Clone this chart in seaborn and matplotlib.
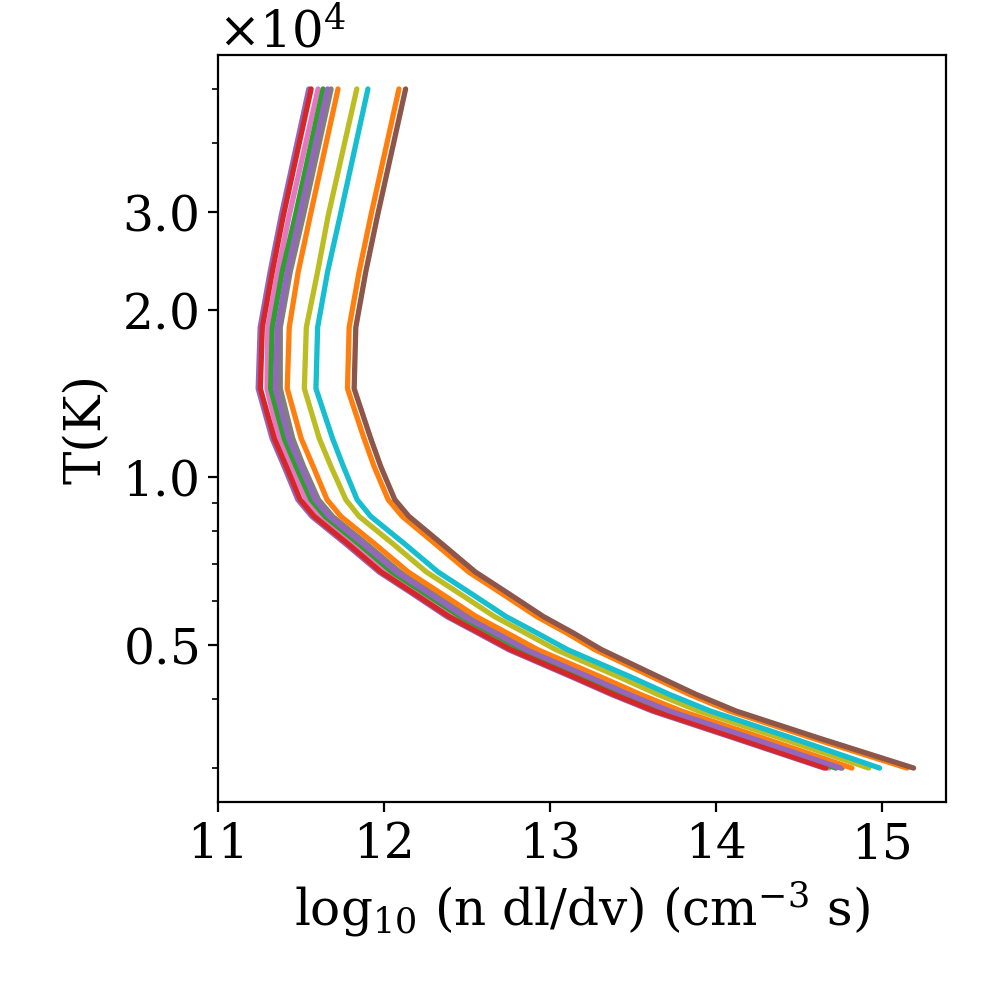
import numpy as np
import pandas as pd
import matplotlib
matplotlib.use("Agg")
import matplotlib.pyplot as plt
import matplotlib.ticker as mticker
import seaborn as sns

# Temperature grid (K)
temperature = [3000, 3400, 3800, 4070, 4370, 4900, 5250, 5620, 6170, 6760, 7590, 8510, 9120,
               10470, 11750, 14450, 18620, 23440, 29510, 50000]

# log10(n dl/dv) for each curve (draw order)
curves = {
    "c1_orange": [15.150, 14.575, 14.080, 13.840, 13.620, 13.270, 13.100, 12.920, 12.714, 12.510,
                  12.310, 12.110, 12.025, 11.940, 11.880, 11.780, 11.790, 11.850, 11.920, 12.090],
    "c4_purple": [14.650, 14.104, 13.615, 13.369, 13.135, 12.750, 12.564, 12.378, 12.174, 11.970,
                  11.770, 11.565, 11.481, 11.398, 11.326, 11.242, 11.254, 11.314, 11.380, 11.547],
    "c5_brown":  [15.190, 14.615, 14.120, 13.880, 13.660, 13.310, 13.140, 12.960, 12.754, 12.550,
                  12.350, 12.150, 12.065, 11.980, 11.920, 11.820, 11.830, 11.890, 11.960, 12.130],
    "c6_pink":   [14.680, 14.139, 13.650, 13.404, 13.175, 12.795, 12.611, 12.425, 12.222, 12.018,
                  11.820, 11.616, 11.532, 11.440, 11.368, 11.295, 11.300, 11.360, 11.428, 11.603],
    "c7_gray":   [14.760, 14.219, 13.730, 13.484, 13.255, 12.875, 12.691, 12.505, 12.299, 12.095,
                  11.895, 11.690, 11.605, 11.515, 11.450, 11.375, 11.375, 11.435, 11.513, 11.681],
    "c8_olive":  [14.920, 14.384, 13.895, 13.649, 13.420, 13.035, 12.851, 12.665, 12.459, 12.255,
                  12.055, 11.850, 11.770, 11.680, 11.610, 11.520, 11.532, 11.600, 11.663, 11.836],
    "c9_cyan":   [14.985, 14.454, 13.965, 13.719, 13.490, 13.105, 12.921, 12.735, 12.529, 12.325,
                  12.125, 11.920, 11.838, 11.755, 11.690, 11.590, 11.600, 11.660, 11.735, 11.903],
    "c11_orange": [14.818, 14.279, 13.790, 13.544, 13.310, 12.925, 12.741, 12.555, 12.349, 12.145,
                   11.945, 11.740, 11.657, 11.573, 11.501, 11.417, 11.429, 11.483, 11.555, 11.723],
    "c12_green": [14.722, 14.179, 13.690, 13.444, 13.213, 12.830, 12.646, 12.460, 12.252, 12.048,
                  11.850, 11.645, 11.560, 11.470, 11.399, 11.317, 11.327, 11.387, 11.465, 11.633],
    "c13_red":   [14.662, 14.118, 13.629, 13.383, 13.148, 12.763, 12.577, 12.391, 12.186, 11.982,
                  11.784, 11.579, 11.495, 11.411, 11.339, 11.255, 11.267, 11.327, 11.393, 11.561],
    "c14_purple": [14.750, 14.209, 13.720, 13.474, 13.240, 12.855, 12.669, 12.483, 12.279, 12.075,
                   11.875, 11.670, 11.585, 11.498, 11.425, 11.345, 11.357, 11.417, 11.490, 11.660],
}

tab10 = sns.color_palette("tab10")
curve_colors = {
    "c1_orange": tab10[1], "c4_purple": tab10[4], "c5_brown": tab10[5],
    "c6_pink": tab10[6], "c7_gray": tab10[7], "c8_olive": tab10[8],
    "c9_cyan": tab10[9], "c11_orange": tab10[1], "c12_green": tab10[2],
    "c13_red": tab10[3], "c14_purple": tab10[4],
}

rows = []
for name, xs in curves.items():
    for t, x in zip(temperature, xs):
        rows.append({"curve": name, "x": x, "T": t})
df = pd.DataFrame(rows)

sns.set_style("ticks")
plt.rcParams["font.family"] = ["DejaVu Serif"]
plt.rcParams["mathtext.fontset"] = "dejavuserif"
plt.rcParams["font.size"] = 17
for k in ["text.color", "axes.labelcolor", "xtick.color", "ytick.color", "axes.edgecolor"]:
    plt.rcParams[k] = "black"

fig = plt.figure(figsize=(5, 5), dpi=200)
ax = fig.add_axes([0.218, 0.198, 0.728, 0.747])

for name in curves:
    sub = df[df["curve"] == name]
    sns.lineplot(data=sub, x="x", y="T", ax=ax, color=curve_colors[name],
                 sort=False, estimator=None, linewidth=1.9, legend=False)

ax.set_yscale("log")
ax.set_xlim(11, 15.385)
ax.yaxis.set_major_locator(mticker.FixedLocator([5000, 10000, 20000, 30000]))
fmt = mticker.ScalarFormatter(useMathText=True)
fmt.set_powerlimits((0, 0))
ax.yaxis.set_major_formatter(fmt)
ax.yaxis.set_minor_formatter(mticker.NullFormatter())
ax.set_xticks([11, 12, 13, 14, 15])
ax.tick_params(labelsize=17.5, colors="black")
ax.yaxis.get_offset_text().set_fontsize(18)
ax.set_xlabel(r"log$_{10}$ (n dl/dv) (cm$^{-3}$ s)", fontsize=18)
ax.set_ylabel("T(K)", fontsize=18)
for s in ax.spines.values():
    s.set_visible(True)
    s.set_color("black")
    s.set_linewidth(0.8)

fig.savefig("out.png", dpi=200)
